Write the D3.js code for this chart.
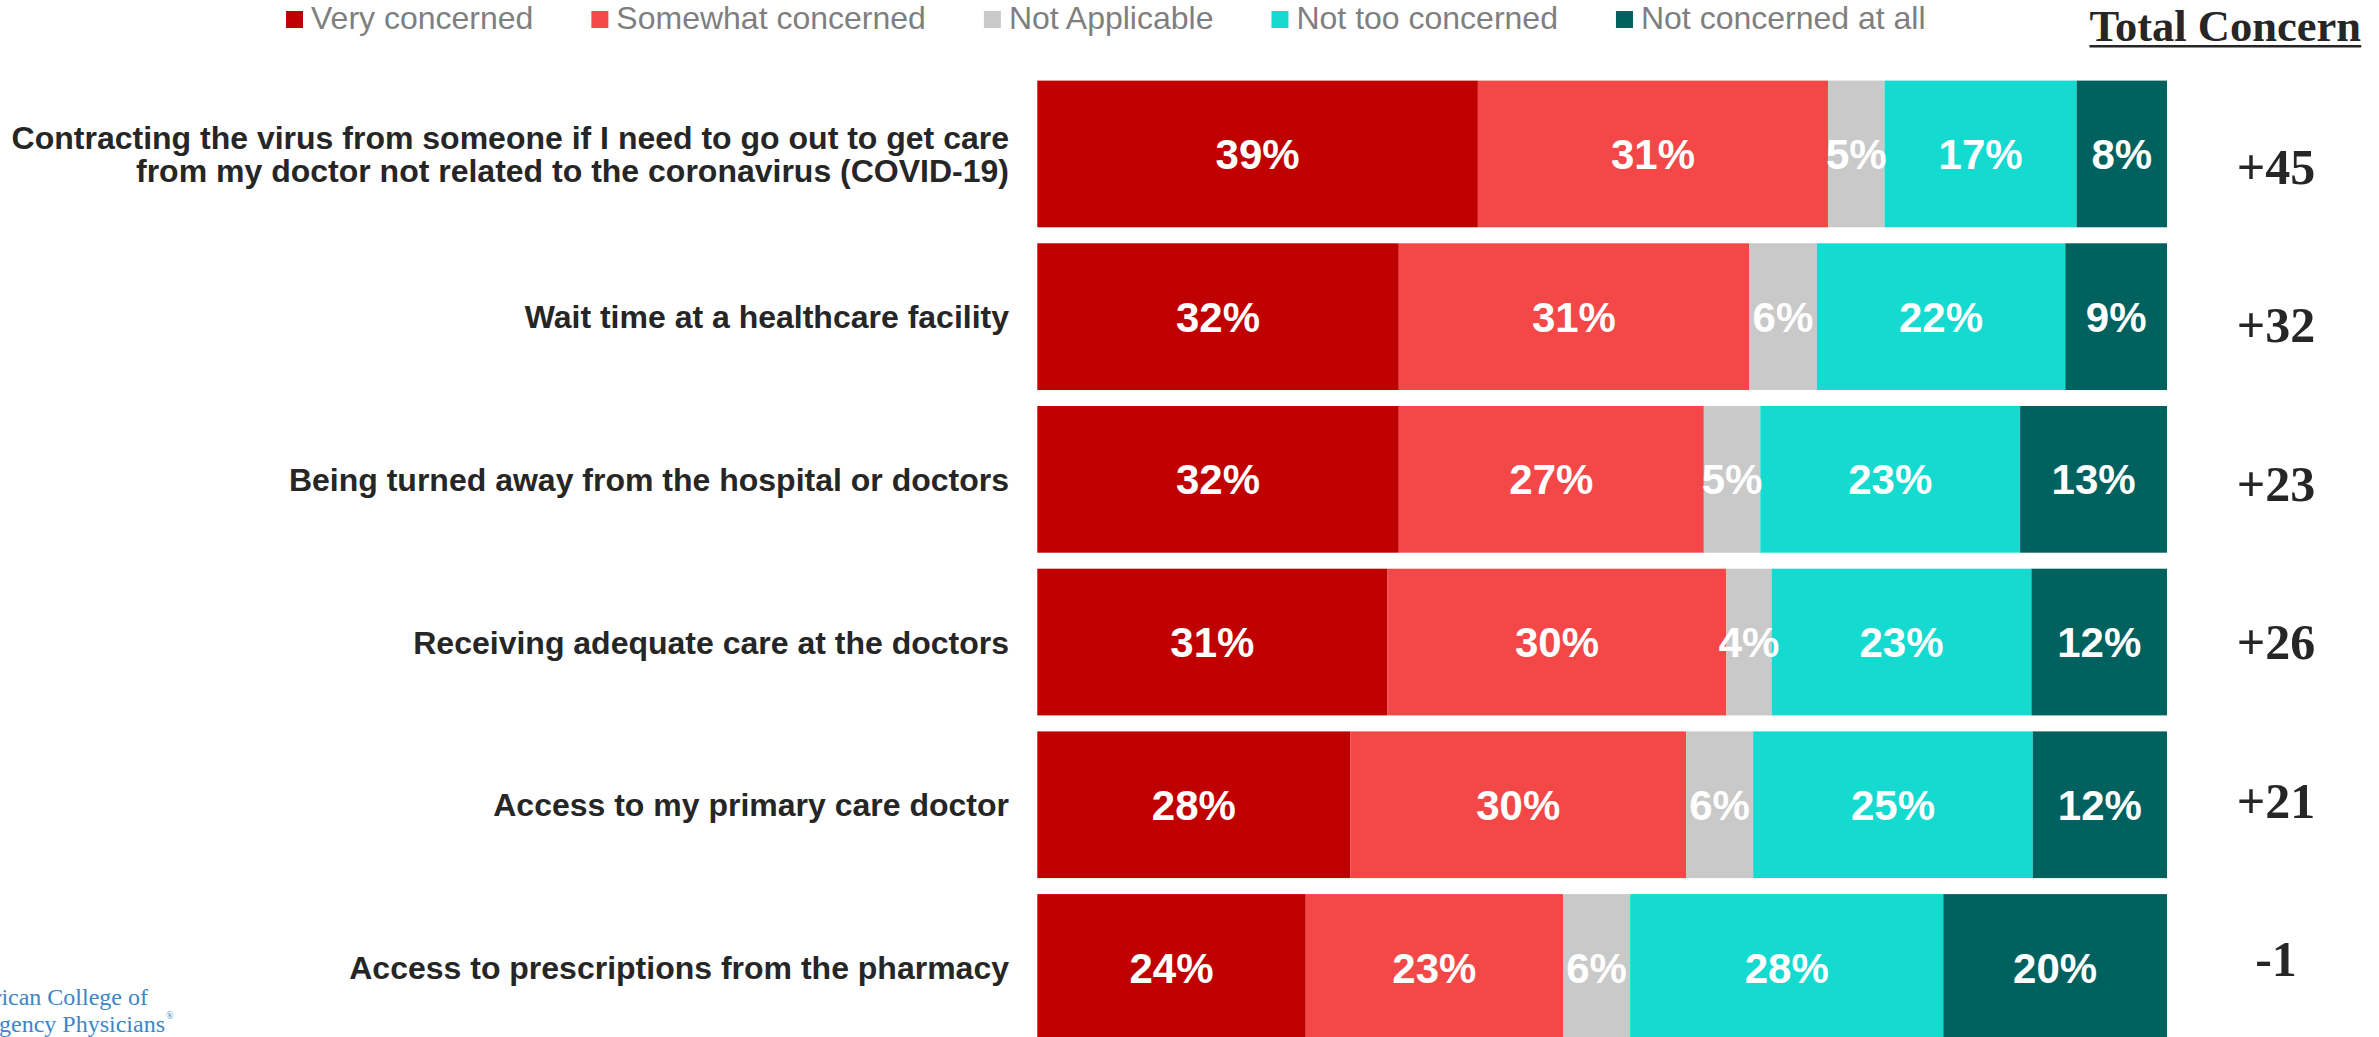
<!DOCTYPE html>
<html><head><meta charset="utf-8">
<script src="https://cdn.jsdelivr.net/npm/d3@7"></script>
<style>body{margin:0;background:#fff;overflow:hidden} svg{display:block}</style>
</head><body>
<svg id="chart" width="2379" height="1037"></svg>
<script>
// ---------- DATA ----------
const categories = [
  "Contracting the virus from someone if I need to go out to get care\nfrom my doctor not related to the coronavirus (COVID-19)",
  "Wait time at a healthcare facility",
  "Being turned away from the hospital or doctors",
  "Receiving adequate care at the doctors",
  "Access to my primary care doctor",
  "Access to prescriptions from the pharmacy"
];
const seriesNames = ["Very concerned", "Somewhat concerned", "Not Applicable", "Not too concerned", "Not concerned at all"];
const veryConcerned     = [39, 32, 32, 31, 28, 24];
const somewhatConcerned = [31, 31, 27, 30, 30, 23];
const notApplicable     = [5, 6, 5, 4, 6, 6];
const notTooConcerned   = [17, 22, 23, 23, 25, 28];
const notConcernedAtAll = [8, 9, 13, 12, 12, 20];
const totalConcern      = [45, 32, 23, 26, 21, -1];
const totalConcernTitle = "Total Concern";
const logoLines = ["American College of", "Emergency Physicians"];

// ---------- STYLE ----------
const colors = ["#c00000", "#f44848", "#c9c9c9", "#15dad0", "#00615f"];
const sans = "'Liberation Sans', Arial, sans-serif";
const serif = "'Liberation Serif', 'Times New Roman', serif";

const svg = d3.select("#chart");

const seriesArrays = [veryConcerned, somewhatConcerned, notApplicable, notTooConcerned, notConcernedAtAll];
const rows = categories.map((c, i) => {
  const r = {category: c};
  seriesNames.forEach((s, j) => r[s] = seriesArrays[j][i]);
  return r;
});
const stacked = d3.stack().keys(seriesNames).offset(d3.stackOffsetExpand)(rows);

const x = d3.scaleLinear().domain([0, 1]).range([1037.3, 2167]);
const y = d3.scaleBand().domain(categories).range([80.6, 80.6 + 6 * 162.7 - 16]).paddingInner(16 / 162.7).paddingOuter(0);
const yVal = d3.scalePoint().domain(categories).range([167, 959]);
const color = d3.scaleOrdinal().domain(seriesNames).range(colors);

// bars
const layers = svg.append("g").selectAll("g").data(stacked).join("g")
  .attr("fill", d => color(d.key));
layers.selectAll("rect").data(d => d).join("rect")
  .attr("x", d => x(d[0]))
  .attr("width", d => x(d[1]) - x(d[0]))
  .attr("y", d => y(d.data.category))
  .attr("height", y.bandwidth());

// percent labels
const lbl = svg.append("g").attr("font-family", sans).attr("font-weight", "bold")
  .attr("font-size", 42).attr("fill", "#fff").attr("text-anchor", "middle");
stacked.forEach(layer => {
  lbl.selectAll(null).data(layer).join("text")
    .attr("x", d => (x(d[0]) + x(d[1])) / 2)
    .attr("y", d => y(d.data.category) + y.bandwidth() / 2)
    .attr("dy", "0.36em")
    .text(d => d.data[layer.key] + "%");
});

// category labels
const cat = svg.append("g").attr("font-family", sans).attr("font-weight", "bold")
  .attr("font-size", 32).attr("fill", "#262626").attr("text-anchor", "end");
categories.forEach(c => {
  const lines = c.split("\n");
  const cy = y(c) + y.bandwidth() / 2;
  const lh = 33;
  const t = cat.append("text").attr("x", 1009);
  lines.forEach((ln, k) => {
    t.append("tspan").attr("x", 1009)
      .attr("y", cy + (k - (lines.length - 1) / 2) * lh)
      .attr("dy", "0.36em").text(ln);
  });
});

// total concern values
svg.append("g").attr("font-family", serif).attr("font-weight", "bold")
  .attr("font-size", 50).attr("fill", "#262626").attr("text-anchor", "middle")
  .selectAll("text").data(categories).join("text")
  .attr("x", 2276)
  .attr("y", d => yVal(d))
  .attr("dy", "0.34em")
  .text((d, i) => (totalConcern[i] > 0 ? "+" : "") + totalConcern[i]);

// Total Concern header
const tc = svg.append("text").attr("x", 2361).attr("y", 41)
  .attr("font-family", serif).attr("font-weight", "bold").attr("font-size", 44.5)
  .attr("fill", "#262626").attr("text-anchor", "end").text(totalConcernTitle);
const bb = tc.node().getBBox();
svg.append("rect").attr("x", bb.x).attr("y", 45).attr("width", bb.width).attr("height", 2.5).attr("fill", "#262626");

// legend
const leg = svg.append("g");
let lx = 286;
seriesNames.forEach((s, i) => {
  leg.append("rect").attr("x", lx).attr("y", 11).attr("width", 17).attr("height", 17).attr("fill", color(s));
  const t = leg.append("text").attr("x", lx + 25).attr("y", 28.5)
    .attr("font-family", sans).attr("font-size", 32).attr("fill", "#7f7f7f").text(s);
  lx = lx + 25 + t.node().getComputedTextLength() + 58;
});

// logo (cut off at left edge, as in the source)
const logo = svg.append("g").attr("font-family", serif).attr("font-size", 24).attr("fill", "#3a86c6").attr("text-anchor", "end");
logo.append("text").attr("x", 148).attr("y", 1005).text(logoLines[0]);
logo.append("text").attr("x", 165).attr("y", 1032).text(logoLines[1]);
svg.append("text").attr("x", 166).attr("y", 1019).attr("font-family", serif).attr("font-size", 10).attr("fill", "#3a86c6").text("®");
</script>
</body></html>
